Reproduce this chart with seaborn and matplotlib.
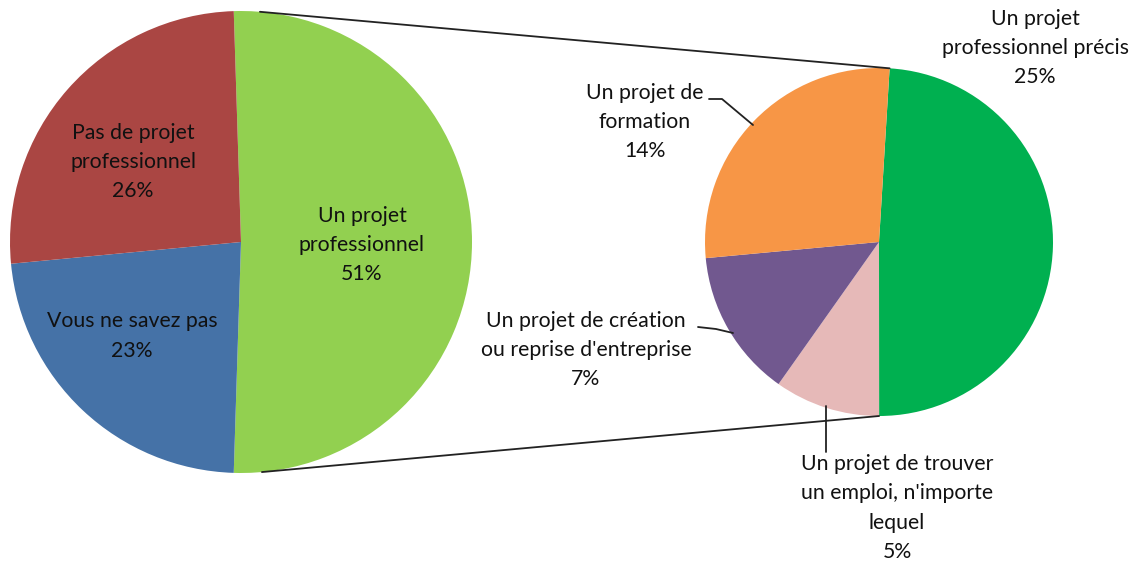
import numpy as np
import seaborn as sns
import matplotlib.pyplot as plt

# données
main_labels = ['Un projet\nprofessionnel\n51%', 'Vous ne savez pas\n23%', 'Pas de projet\nprofessionnel\n26%']
main_values = [51, 23, 26]
main_colors = ['#92D050', '#4572A7', '#AA4643']

sub_labels = ['Un projet\nprofessionnel précis\n25%',
              "Un projet de trouver\nun emploi, n'importe\nlequel\n5%",
              "Un projet de création\nou reprise d'entreprise\n7%",
              'Un projet de\nformation\n14%']
sub_values = [25, 5, 7, 14]
sub_colors = ['#00B050', '#E6B9B8', '#71588F', '#F79646']

sns.set_theme(style='white')
plt.rcParams['font.family'] = ['Lato', 'DejaVu Sans']

W, H = 1140, 564
fig = plt.figure(figsize=(W / 100, H / 100), dpi=100)
ax = fig.add_axes([0, 0, 1, 1])

c1, r1 = (241, 322), 231
c2, r2 = (879, 322), 174

w1, _ = ax.pie(main_values, colors=main_colors, startangle=91.8, counterclock=False,
               center=c1, radius=r1, frame=True, wedgeprops=dict(linewidth=0))
w2, _ = ax.pie(sub_values, colors=sub_colors, startangle=86.5, counterclock=False,
               center=c2, radius=r2, frame=True, wedgeprops=dict(linewidth=0))
ax.set_xlim(0, W)
ax.set_ylim(0, H)
ax.set_aspect('equal')
ax.axis('off')

# lignes de liaison
def pt(c, r, a):
    return c[0] + r * np.cos(np.radians(a)), c[1] + r * np.sin(np.radians(a))

g = w2[0]
p_top = pt(c2, r2, max(g.theta1, g.theta2))
p_bot = pt(c2, r2, min(g.theta1, g.theta2))
q_top = pt(c1, r1, 85.3)
q_bot = pt(c1, r1, -84.8)
ax.plot([q_top[0], p_top[0]], [q_top[1], p_top[1]], color='#222222', lw=1.3)
ax.plot([q_bot[0], p_bot[0]], [q_bot[1], p_bot[1]], color='#222222', lw=1.3)

# étiquettes
txt = dict(ha='center', va='center', fontsize=15.3, linespacing=1.58, color='#111111')
ax.text(362, H - 245, main_labels[0], **txt)
ax.text(132, H - 336, main_labels[1], **txt)
ax.text(133, H - 162, main_labels[2], **txt)
ax.text(1035, H - 48, sub_labels[0], **txt)
ax.text(897, H - 508, sub_labels[1], **txt)
ax.text(586, H - 350, sub_labels[2], **txt)
ax.text(645, H - 122, sub_labels[3], **txt)

# traits de rappel
lc = dict(color='#222222', lw=1.3)
ax.plot([709, 722, 753], [H - 99, H - 99, H - 125], **lc)
ax.plot([698, 716, 733], [H - 327, H - 329, H - 333], **lc)
ax.plot([826, 826], [H - 406, H - 452], **lc)

plt.savefig('out.png', dpi=100)
